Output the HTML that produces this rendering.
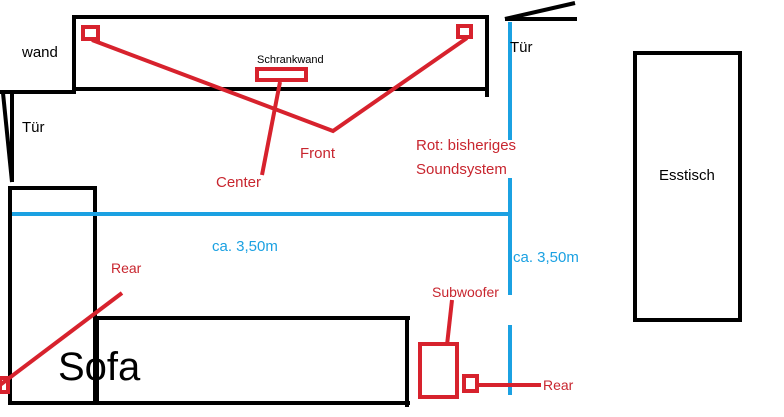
<!DOCTYPE html>
<html><head><meta charset="utf-8"><style>html,body{margin:0;padding:0;background:#fff}svg{display:block}text{font-family:"Liberation Sans",sans-serif}</style></head><body>
<svg width="784" height="417" viewBox="0 0 784 417" xmlns="http://www.w3.org/2000/svg">
<g stroke="#000" stroke-width="4" fill="none">
<polyline points="74,92 74,17 487,17 487,97"/>
<line x1="74" y1="89" x2="487" y2="89"/>
<line x1="0" y1="92" x2="76" y2="92"/>
<line x1="3" y1="93" x2="12" y2="182"/>
<line x1="12" y1="93" x2="12" y2="182"/>
<line x1="505" y1="19" x2="575" y2="3"/>
<line x1="505" y1="19" x2="577" y2="19"/>
<rect x="10" y="188" width="85" height="215"/>
<polyline points="97,403 97,318 410,318"/>
<line x1="10" y1="403" x2="410" y2="403"/>
<line x1="407" y1="318" x2="407" y2="407"/>
<rect x="635" y="53" width="105" height="267"/>
</g>
<g stroke="#1ba1e2" stroke-width="4" fill="none">
<line x1="510" y1="22" x2="510" y2="140"/>
<line x1="510" y1="178" x2="510" y2="295"/>
<line x1="510" y1="325" x2="510" y2="395"/>
<line x1="12" y1="214" x2="510" y2="214"/>
</g>
<g stroke="#d7222d" stroke-width="4" fill="none">
<rect x="83" y="27" width="15" height="12"/>
<rect x="458" y="26" width="13" height="11"/>
<polyline points="92,40 333,131 467,38"/>
<rect x="257" y="69" width="49" height="11"/>
<line x1="280" y1="82" x2="262" y2="175"/>
<line x1="0" y1="385" x2="122" y2="293"/>
<rect x="0" y="378" width="8" height="14"/>
<line x1="452" y1="300" x2="447" y2="345"/>
<rect x="420" y="344" width="37" height="53"/>
<rect x="464" y="376" width="13" height="15"/>
<line x1="478" y1="385" x2="541" y2="385"/>
</g>
<g font-size="15" fill="#000">
<text x="22" y="57">wand</text>
<text x="22" y="132">Tür</text>
<text x="510" y="52">Tür</text>
<text x="659" y="180">Esstisch</text>
<text x="257" y="63" font-size="11">Schrankwand</text>
<text x="58" y="380" font-size="40">Sofa</text>
</g>
<g font-size="15" fill="#c8262f">
<text x="300" y="158">Front</text>
<text x="216" y="187">Center</text>
<text x="416" y="150">Rot: bisheriges</text>
<text x="416" y="174">Soundsystem</text>
<text x="111" y="273" font-size="14">Rear</text>
<text x="432" y="297" font-size="14">Subwoofer</text>
<text x="543" y="390" font-size="14">Rear</text>
</g>
<g font-size="15" fill="#1ba1e2">
<text x="212" y="251">ca. 3,50m</text>
<text x="513" y="262">ca. 3,50m</text>
</g>
</svg>
</body></html>
